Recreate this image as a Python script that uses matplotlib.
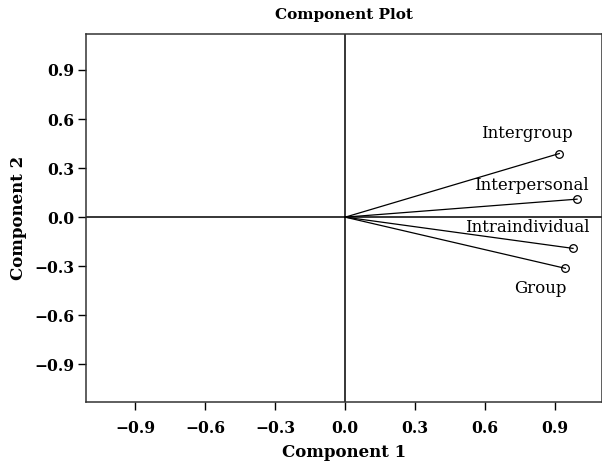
import matplotlib
matplotlib.use("Agg")
import matplotlib.pyplot as plt
from matplotlib import font_manager

names = ["Intergroup", "Interpersonal", "Intraindividual", "Group"]
comp1 = [0.917, 0.993, 0.976, 0.943]
comp2 = [0.389, 0.110, -0.191, -0.313]
ticks = [-0.9, -0.6, -0.3, 0.0, 0.3, 0.6, 0.9]
tick_labels = ["\u22120.9", "\u22120.6", "\u22120.3", "0.0", "0.3", "0.6", "0.9"]

plt.rcParams['font.family'] = ['DejaVu Serif']
installed = {f.name for f in font_manager.fontManager.ttflist}
tick_family = 'DejaVu Serif Condensed' if 'DejaVu Serif Condensed' in installed else 'DejaVu Serif'
tick_size = 12 if tick_family == 'DejaVu Serif Condensed' else 11.2

fig = plt.figure(figsize=(6.02, 4.65), dpi=100)
ax = fig.add_axes([0.143, 0.1355, 0.857, 0.7915])

ax.set_xlim(-1.11, 1.10)
ax.set_ylim(-1.13, 1.12)
ax.axhline(0, color='black', lw=1.1)
ax.axvline(0, color='black', lw=1.1)

for x, y in zip(comp1, comp2):
    ax.plot([0, x], [0, y], color='black', lw=0.9)
    ax.plot([x], [y], marker='o', ms=5.5, mfc='none', mec='black', mew=0.9)

# label offsets in pixels (text baseline-centre relative to the point)
offsets = [(-32, 16), (-46, 9), (-46, 16), (-25, -25)]
for n, x, y, off in zip(names, comp1, comp2, offsets):
    ax.annotate(n, (x, y), xytext=off, textcoords='offset pixels',
                ha='center', va='baseline', fontsize=12)

ax.set_xticks(ticks)
ax.set_xticklabels(tick_labels, fontsize=tick_size, fontweight='bold', family=tick_family)
ax.set_yticks(ticks)
ax.set_yticklabels(tick_labels, fontsize=tick_size, fontweight='bold', family=tick_family)
ax.tick_params(direction='out', length=6, width=1, color='black')
ax.tick_params(axis='x', pad=7)
ax.tick_params(axis='y', pad=2.5)
ax.set_xlabel("Component 1", fontsize=12, fontweight='bold', labelpad=5)
ax.set_ylabel("Component 2", fontsize=12, fontweight='bold', labelpad=5)
ax.set_title("Component Plot", fontsize=11, fontweight='bold', pad=10.5)
for s in ax.spines.values():
    s.set_linewidth(1.1)
    s.set_color('#333333')

fig.savefig("out.png", dpi=100)
